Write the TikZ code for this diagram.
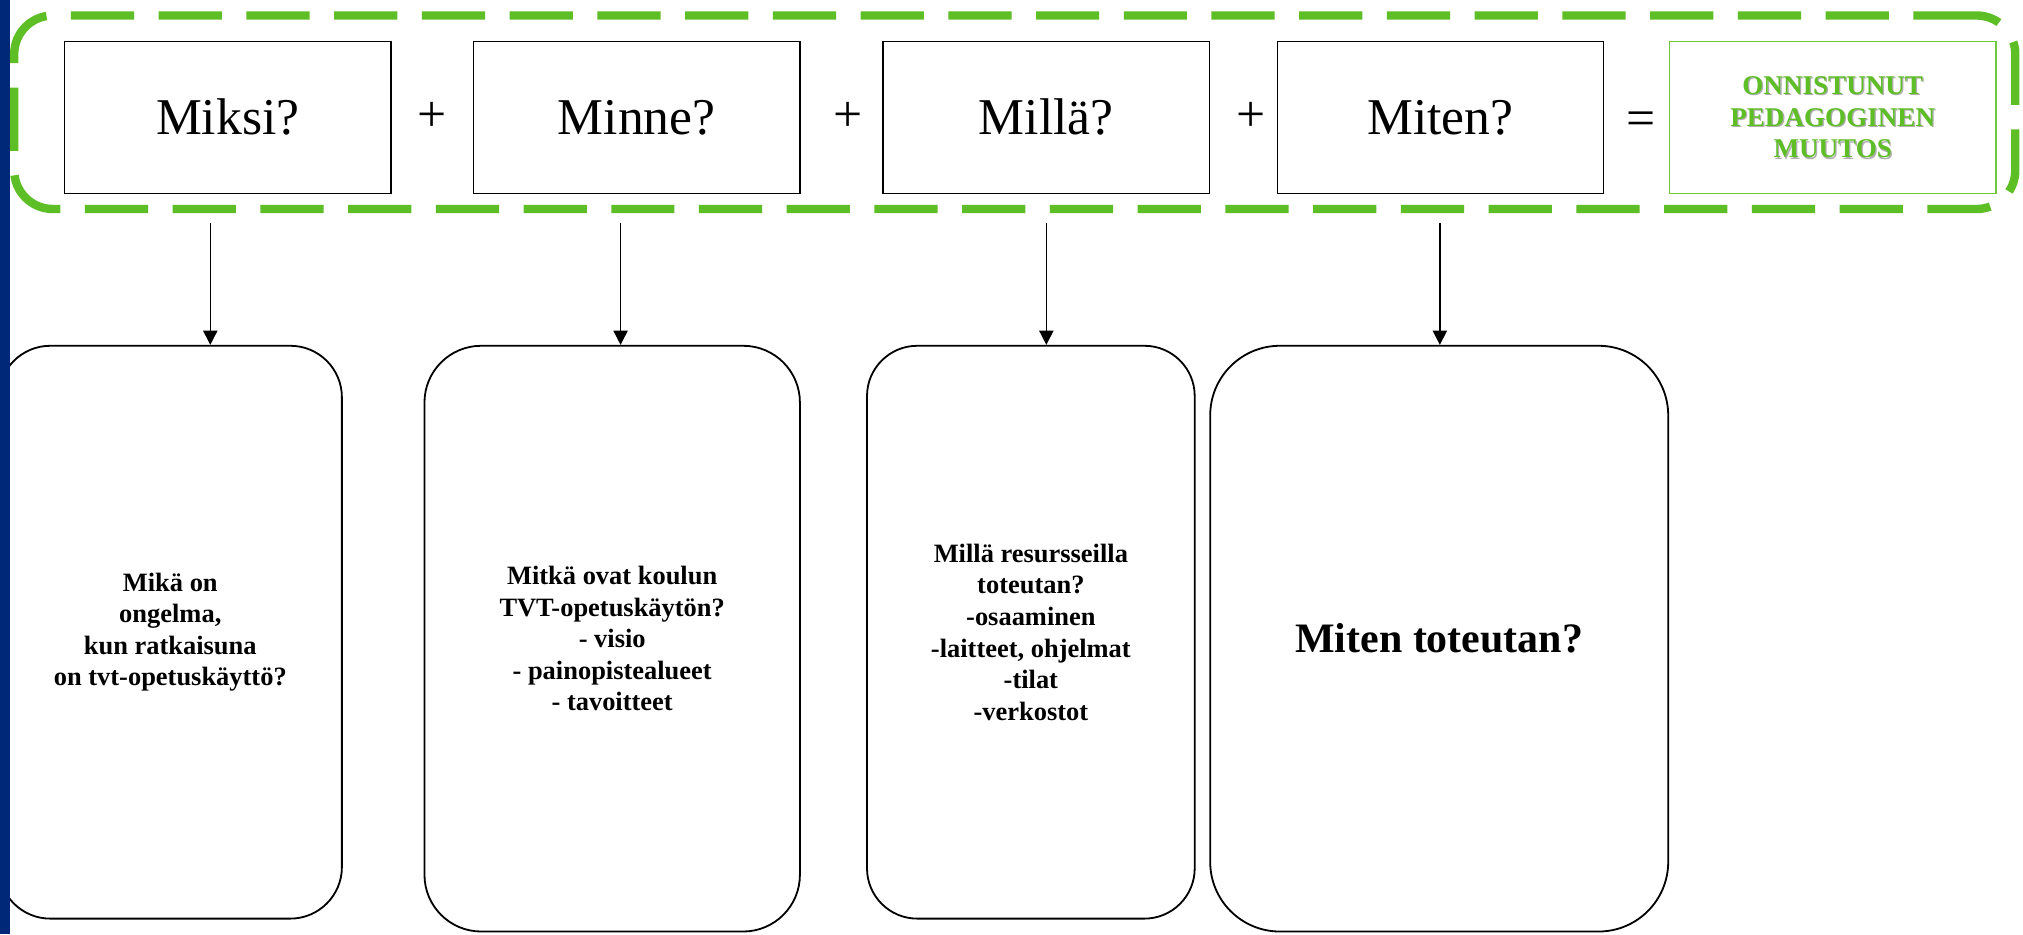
\documentclass[tikz,border=0pt]{standalone}
\usepackage{fontspec}
\setmainfont{Liberation Serif}
\usetikzlibrary{arrows.meta}
\definecolor{grn}{RGB}{94,190,38}
\definecolor{grnbox}{RGB}{110,200,60}
\definecolor{navy}{RGB}{0,40,120}
\definecolor{shade}{RGB}{175,175,175}
\tikzset{
  topbox/.style={draw=black, line width=1.2pt, minimum width=253pt, minimum height=118pt, inner sep=0pt,
    font=\fontsize{40}{48}\selectfont},
  goalbox/.style={draw=grnbox, line width=1.2pt, minimum width=253pt, minimum height=118pt, inner sep=0pt,
    align=center, text=grn, font=\bfseries\fontsize{21}{24.5}\selectfont},
  goalshadow/.style={inner sep=0pt, align=center, text=shade, font=\bfseries\fontsize{21}{24.5}\selectfont},
  opsign/.style={inner sep=0pt, font=\fontsize{40}{48}\selectfont},
  lowbox/.style={draw=black, line width=1.4pt, inner sep=0pt, align=center,
    font=\bfseries\fontsize{20.5}{24.5}\selectfont},
  frame/.style={draw=grn, line width=6.5pt, dash pattern=on 49pt off 19pt, rounded corners=30pt,
    inner sep=0pt},
  arr/.style={-{Triangle[length=11pt,width=11pt]}, line width=1.1pt, black}
}
\begin{document}
\begin{tikzpicture}[x=1pt,y=-1pt]
\useasboundingbox (0,0) rectangle (1568,724);
\clip (0,0) rectangle (1568,724);
\fill[white] (0,0) rectangle (1568,724);

% dashed frame
\node[frame, minimum width=1551pt, minimum height=150pt] (frame) at (786.5,87) {};

% top row
\node[topbox] (miksi) at (176.5,91) {Miksi?};
\node[topbox] (minne) at (493.5,91) {Minne?};
\node[topbox] (milla) at (811,91) {Millä?};
\node[topbox] (miten) at (1116.5,91) {Miten?};
\node[goalshadow] at (1421.5,92) {ONNISTUNUT\\PEDAGOGINEN\\MUUTOS};
\node[goalbox] (goal) at (1420.5,91) {ONNISTUNUT\\PEDAGOGINEN\\MUUTOS};

\node[opsign] (p1) at (335,91) {+};
\node[opsign] (p2) at (657,91) {+};
\node[opsign] (p3) at (970,91) {+};
\node[opsign] (eq) at (1272,96) {=};

% lower boxes
\node[lowbox, minimum width=266pt, minimum height=444pt, rounded corners=40pt] (b1) at (132,490)
  {Mikä on\\ongelma,\\kun ratkaisuna\\on tvt-opetuskäyttö?};
\node[lowbox, minimum width=291pt, minimum height=454pt, rounded corners=44pt] (b2) at (474.5,495)
  {Mitkä ovat koulun\\TVT-opetuskäytön?\\- visio\\- painopistealueet\\- tavoitteet};
\node[lowbox, minimum width=254pt, minimum height=444pt, rounded corners=39pt] (b3) at (799,490)
  {Millä resursseilla\\toteutan?\\-osaaminen\\-laitteet, ohjelmat\\-tilat\\-verkostot};
\node[lowbox, minimum width=355pt, minimum height=454pt, rounded corners=54pt,
  font=\bfseries\fontsize{32.5}{38}\selectfont] (b4) at (1115.5,495) {Miten toteutan?};

% arrows
\coordinate (s1) at (163,173);
\coordinate (s2) at (481,173);
\coordinate (s3) at (811,173);
\coordinate (s4) at (1116,173);
\draw[arr] (s1) -- (s1 |- b1.north);
\draw[arr] (s2) -- (s2 |- b2.north);
\draw[arr] (s3) -- (s3 |- b3.north);
\draw[arr] (s4) -- (s4 |- b4.north);

% left bar
\fill[navy] (0,0) rectangle (7.7,724);
\end{tikzpicture}
\end{document}
